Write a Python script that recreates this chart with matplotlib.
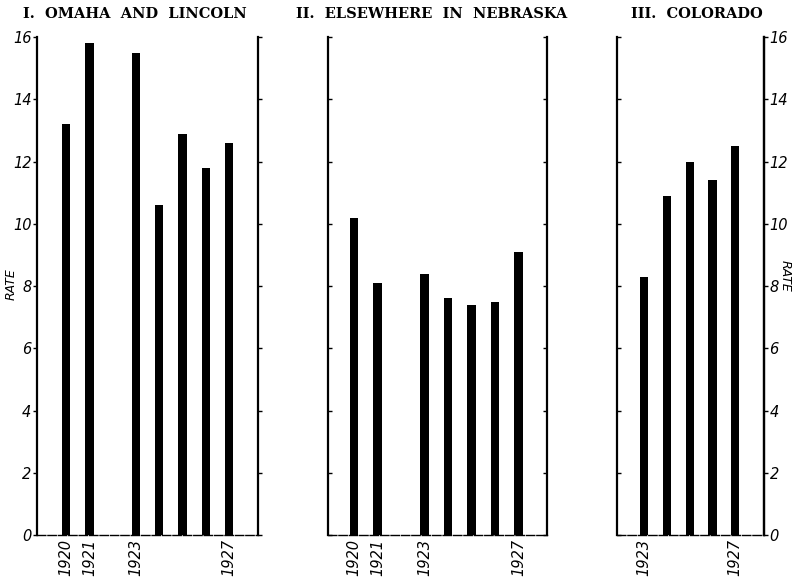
import matplotlib
matplotlib.use("Agg")
import matplotlib.pyplot as plt

# ── data ─────────────────────────────────────────────────────────────────
YEARS_NEB = [1920, 1921, 1923, 1924, 1925, 1926, 1927]
RATE_OMAHA = [13.2, 15.8, 15.5, 10.6, 12.9, 11.8, 12.6]
RATE_NEB_OTHER = [10.2, 8.1, 8.4, 7.6, 7.4, 7.5, 9.1]
YEARS_COLO = [1923, 1924, 1925, 1926, 1927]
RATE_COLO = [8.3, 10.9, 12.0, 11.4, 12.5]

TITLES = ["I.  OMAHA  AND  LINCOLN", "II.  ELSEWHERE  IN  NEBRASKA", "III.  COLORADO"]
TITLE_X = [135, 432, 697]  # pixel centres of the titles
XTICKS_NEB = [1920, 1921, 1923, 1927]
XTICKS_COLO = [1923, 1927]
YTICKS = list(range(0, 17, 2))

W, H = 794, 577
fig = plt.figure(figsize=(W / 100, H / 100), dpi=100)

panels = [
    # rect, years, rates, xticks, xlim, label side
    ([0.0466, 0.0728, 0.2785, 0.863], YEARS_NEB, RATE_OMAHA, XTICKS_NEB, (1918.75, 1928.25), "left"),
    ([0.4131, 0.0728, 0.2758, 0.863], YEARS_NEB, RATE_NEB_OTHER, XTICKS_NEB, (1918.9, 1928.2), None),
    ([0.7771, 0.0728, 0.1851, 0.863], YEARS_COLO, RATE_COLO, XTICKS_COLO, (1921.8, 1928.27), "right"),
]

tick_font = dict(family="DejaVu Sans", style="italic", size=10.5)

for (rect, years, rates, xt, xlim, side), title, tx in zip(panels, TITLES, TITLE_X):
    ax = fig.add_axes(rect)
    ax.bar(years, rates, width=0.36, color="black", zorder=3)
    ax.set_ylim(0, 16)
    ax.set_xlim(*xlim)
    ax.set_yticks(YTICKS)

    for s in ["left", "right"]:
        ax.spines[s].set_linewidth(1.6)
    ax.spines["bottom"].set_linewidth(1.0)
    ax.spines["bottom"].set_linestyle((0, (6, 1.5)))
    ax.spines["top"].set_visible(False)

    ax.tick_params(axis="y", which="both", left=True, right=True,
                   direction="in", length=3, width=1.0,
                   labelleft=False, labelright=False)
    if side == "left":
        ax.tick_params(axis="y", left=True, direction="out", labelleft=True, pad=1)
        ax.set_yticklabels([str(v) for v in YTICKS], fontdict=tick_font)
        fig.text(11 / W, 1 - 284 / H, "RATE", rotation=90, ha="center", va="center",
                 fontsize=9, style="italic")
    elif side == "right":
        ax2 = ax.twinx()
        ax2.set_ylim(0, 16)
        ax2.set_yticks(YTICKS)
        ax2.set_yticklabels([str(v) for v in YTICKS], fontdict=tick_font)
        ax2.tick_params(axis="y", direction="out", length=3, width=1.0, pad=1)
        for s in ["top", "left", "bottom"]:
            ax2.spines[s].set_visible(False)
        ax2.spines["right"].set_linewidth(1.6)
        fig.text(785 / W, 1 - 276 / H, "RATE", rotation=270, ha="center", va="center",
                 fontsize=9, style="italic")
        ax.tick_params(axis="y", right=False)

    ax.set_xticks(xt)
    ax.set_xticklabels([str(v) for v in xt], rotation=90, fontdict=tick_font)
    ax.tick_params(axis="x", length=0, pad=3)

    fig.text(tx / W, 1 - 14 / H, title, ha="center", va="center",
             fontsize=10.5, fontweight="bold", family="DejaVu Serif")

fig.savefig("out.png", dpi=100)
